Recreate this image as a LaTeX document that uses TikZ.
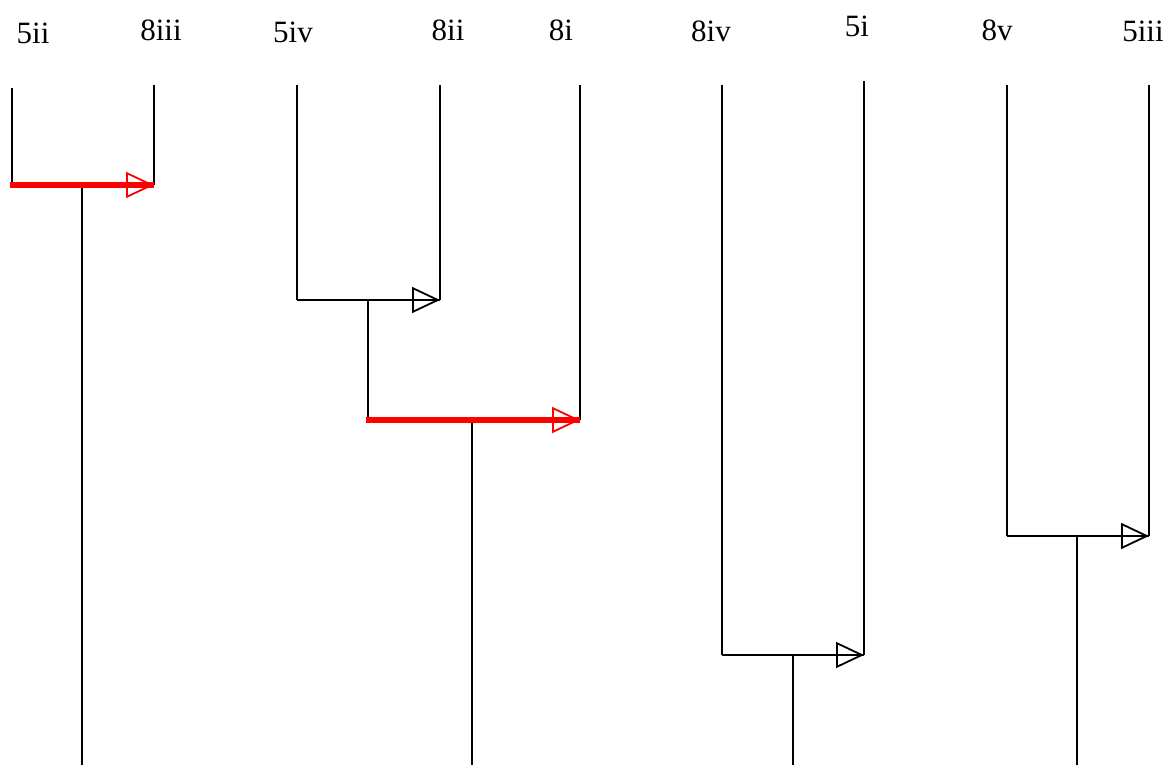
\documentclass[tikz,border=0pt]{standalone}
\usepackage{fontspec}
\setmainfont{Liberation Serif}
\usetikzlibrary{arrows.meta}
\begin{document}
\begin{tikzpicture}[x=1pt,y=-1pt,
  lbl/.style={font=\fontsize{31}{34}\selectfont, inner sep=0pt},
  br/.style={line width=2pt, black},
  hl/.style={line width=5.5pt, red},
  tipk/.style={-{Triangle[open,length=28pt,width=26pt,line width=1.8pt]}, line width=2pt, black},
  tipr/.style={-{Triangle[open,length=28pt,width=26pt,line width=1.8pt]}, line width=2pt, red}]
\useasboundingbox (0,0) rectangle (1171,765);
% labels
\node[lbl] (l5ii) at (33,33) {5ii};
\node[lbl] (l8iii) at (161,30) {8iii};
\node[lbl] (l5iv) at (293,32) {5iv};
\node[lbl] (l8ii) at (448,30) {8ii};
\node[lbl] (l8i) at (561,30) {8i};
\node[lbl] (l8iv) at (711,31) {8iv};
\node[lbl] (l5i) at (857,26) {5i};
\node[lbl] (l8v) at (997,30) {8v};
\node[lbl] (l5iii) at (1143,31) {5iii};
% leaf tops
\coordinate (t5ii) at (12,88);
\coordinate (t8iii) at (154,85);
\coordinate (t5iv) at (297,85);
\coordinate (t8ii) at (440,85);
\coordinate (t8i) at (580,85);
\coordinate (t8iv) at (722,85);
\coordinate (t5i) at (864,81);
\coordinate (t8v) at (1007,85);
\coordinate (t5iii) at (1149,85);
% junction ends
\coordinate (a1) at (12,185); \coordinate (b1) at (154,185);
\coordinate (s1) at (82,185); \coordinate (e1) at (82,765);
\coordinate (a2) at (297,300); \coordinate (b2) at (440,300);
\coordinate (s2) at (368,300);
\coordinate (a3) at (368,420); \coordinate (b3) at (580,420);
\coordinate (s3) at (472,420); \coordinate (e3) at (472,765);
\coordinate (a4) at (722,655); \coordinate (b4) at (864,655);
\coordinate (s4) at (793,655); \coordinate (e4) at (793,765);
\coordinate (a5) at (1007,536); \coordinate (b5) at (1149,536);
\coordinate (s5) at (1077,536); \coordinate (e5) at (1077,765);
% verticals
\draw[br] (t5ii) -- (a1);
\draw[br] (t8iii) -- (b1);
\draw[br] (s1) -- (e1);
\draw[br] (t5iv) -- (a2);
\draw[br] (t8ii) -- (b2);
\draw[br] (s2) -- (a3);
\draw[br] (t8i) -- (b3);
\draw[br] (s3) -- (e3);
\draw[br] (t8iv) -- (a4);
\draw[br] (t5i) -- (b4);
\draw[br] (s4) -- (e4);
\draw[br] (t8v) -- (a5);
\draw[br] (t5iii) -- (b5);
\draw[br] (s5) -- (e5);
% horizontals
\draw[hl] ([xshift=-2pt]a1) -- (b1);
\draw[tipr] (a1) -- (b1);
\draw[br] (a2) -- (b2);
\draw[tipk] (a2) -- (b2);
\draw[hl] ([xshift=-2pt]a3) -- (b3);
\draw[tipr] (a3) -- (b3);
\draw[br] (a4) -- (b4);
\draw[tipk] (a4) -- (b4);
\draw[br] (a5) -- (b5);
\draw[tipk] (a5) -- (b5);
\end{tikzpicture}
\end{document}
